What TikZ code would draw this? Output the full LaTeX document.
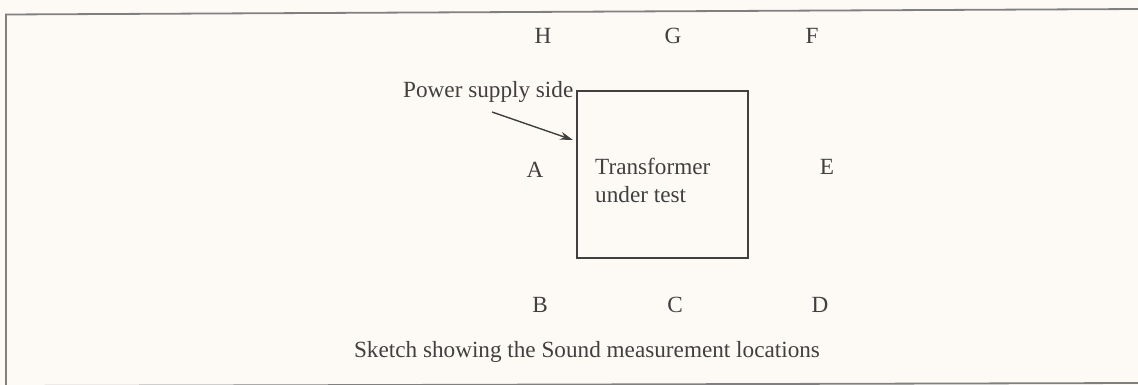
\documentclass[tikz,border=0pt]{standalone}
\usepackage{fontspec}
\setmainfont{Liberation Serif}
\usetikzlibrary{arrows.meta}
\definecolor{ink}{gray}{0.25}
\definecolor{frame}{gray}{0.5}
\definecolor{paper}{RGB}{253,250,246}
\begin{document}
\begin{tikzpicture}[x=1pt,y=-1pt,
  lbl/.style={anchor=base,inner sep=0pt,text=ink,font=\fontsize{23.2}{27}\selectfont},
  lline/.style={draw=ink,line width=1.6pt},
  arr/.style={draw=ink,line width=1.4pt,-{Stealth[length=13pt,width=8pt]}}]
\fill[paper] (0,0) rectangle (1138,385);
\useasboundingbox (0,0) rectangle (1138,385);
% outer frame
\draw[frame,line width=1.8pt] (1140,9) -- (6,14.5) -- (6,387);
\draw[frame,line width=1.8pt] (6,386) -- (1140,383);
% transformer box
\node[lline,minimum width=171pt,minimum height=167pt,inner sep=0pt] (box) at (662.5,174.5) {};
\node[lbl,anchor=base west] (tr) at (595,175) {Transformer};
\node[lbl,anchor=base west] (ut) at (595,202) {under test};
% power supply side
\node[lbl,anchor=base west] (pw) at (403,98) {Power supply side};
\coordinate (as) at (492,112);
\coordinate (ae) at (573,140);
\draw[arr] (as) -- (ae);
% locations
\node[lbl] (H) at (543,44) {H};
\node[lbl] (G) at (673,44) {G};
\node[lbl] (F) at (812,44) {F};
\node[lbl] (A) at (535,177) {A};
\node[lbl] (E) at (827,175) {E};
\node[lbl] (B) at (540,312) {B};
\node[lbl] (C) at (675,312) {C};
\node[lbl] (D) at (820,312) {D};
% caption
\node[lbl] (cap) at (587,357) {Sketch showing the Sound measurement locations};
\end{tikzpicture}
\end{document}
